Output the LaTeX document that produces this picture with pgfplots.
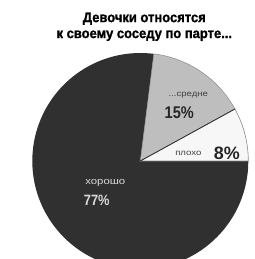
\documentclass[border=0pt]{standalone}
\usepackage{pgfplots}
\usepackage{pgfplotstable}
\pgfplotsset{compat=1.18}
\usepackage{fontspec}
\setmainfont{Liberation Sans}
\newfontfamily\condfont[FakeStretch=0.86]{Liberation Sans}
\newfontfamily\titlefont[FakeStretch=0.93,FakeBold=1.2]{Liberation Sans}
\newfontfamily\widefont[FakeStretch=1.2]{Liberation Sans}
\definecolor{darkslice}{HTML}{303030}
\definecolor{midslice}{HTML}{BEBEBE}
\definecolor{lightslice}{HTML}{F7F7F7}
\definecolor{edgecol}{HTML}{8A8A8A}
\pgfplotstableread{
name value
good 77
mid 15
bad 8
}\piedata
\begin{document}
\pgfplotstablegetelem{0}{value}\of\piedata\let\vgood\pgfplotsretval
\pgfplotstablegetelem{1}{value}\of\piedata\let\vmid\pgfplotsretval
\pgfplotstablegetelem{2}{value}\of\piedata\let\vbad\pgfplotsretval
\pgfmathsetmacro\aA{-3.6*\vgood}
\pgfmathsetmacro\aB{\aA-3.6*\vmid}
\pgfmathsetmacro\aC{\aB-3.6*\vbad}
\begin{tikzpicture}
\begin{axis}[
  hide axis, scale only axis,
  width=246bp, height=259bp,
  xmin=0, xmax=246, ymin=0, ymax=259,
  clip=true,
]
\fill[darkslice] (axis cs:132,98) -- ++(0:108bp) arc[start angle=0, end angle=\aA, radius=108bp] -- cycle;
\filldraw[fill=midslice, draw=edgecol, line width=0.5bp] (axis cs:132,98) -- ++(\aA:108bp) arc[start angle=\aA, end angle=\aB, radius=108bp] -- cycle;
\filldraw[fill=lightslice, draw=edgecol, line width=0.6bp] (axis cs:132,98) -- ++(\aB:108bp) arc[start angle=\aB, end angle=\aC, radius=108bp] -- cycle;
\draw[darkslice, line width=0.8bp] (axis cs:132,98) -- ++(\aB:108bp);
\node[font=\titlefont\bfseries\fontsize{14}{16}\selectfont, align=center, anchor=north] at (axis cs:136,250) {Девочки относятся\\к своему соседу по парте...};
\node[font=\widefont\fontsize{8}{9}\selectfont, text=black!75] at (axis cs:180,164) {...средне};
\node[font=\condfont\bfseries\fontsize{17}{19}\selectfont, text=black!85] at (axis cs:171,146) {15\%};
\node[font=\widefont\fontsize{8}{9}\selectfont, text=black!75] at (axis cs:180,106) {плохо};
\node[font=\bfseries\fontsize{18}{20}\selectfont, text=black!85] at (axis cs:218.5,106) {8\%};
\node[font=\widefont\fontsize{9.5}{11}\selectfont, text=white!85!black] at (axis cs:97,76) {хорошо};
\node[font=\condfont\bfseries\fontsize{15}{17}\selectfont, text=white!85!black] at (axis cs:88.5,59) {77\%};
\end{axis}
\pgfresetboundingbox
\useasboundingbox (0,0) rectangle (246bp,259bp);
\end{tikzpicture}
\end{document}
